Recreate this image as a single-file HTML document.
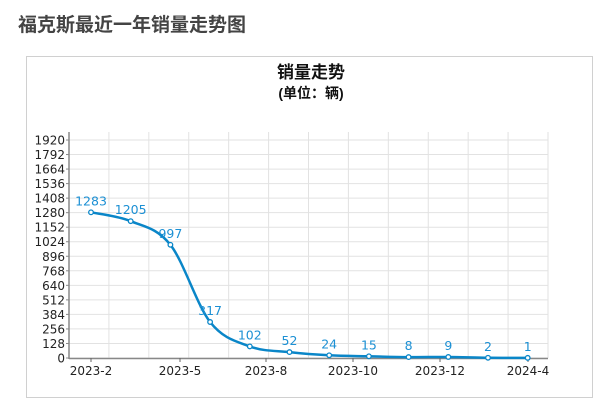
<!DOCTYPE html>
<html><head><meta charset="utf-8"><style>
body{margin:0;background:#fff;width:600px;height:406px;overflow:hidden;font-family:"Liberation Sans","Noto Sans CJK SC",sans-serif}
</style></head><body>
<svg id="s" width="600" height="406" xmlns="http://www.w3.org/2000/svg" style="position:absolute;left:0;top:0">
<text x="18" y="31" font-size="19" font-weight="bold" fill="#444" font-family="Liberation Sans,Noto Sans CJK SC,sans-serif">福克斯最近一年销量走势图</text>
<rect x="26.5" y="56.5" width="566" height="341" fill="#fff" stroke="#d0d0d0"/>
<text x="311" y="78" text-anchor="middle" font-size="17" font-weight="bold" fill="#111" font-family="Liberation Sans,Noto Sans CJK SC,sans-serif">销量走势</text>
<text x="311" y="98" text-anchor="middle" font-size="14" font-weight="bold" fill="#111" font-family="Liberation Sans,Noto Sans CJK SC,sans-serif">(单位：辆)</text>
<g id="g"></g>
</svg>
<script>
var g=document.getElementById('g'),h='';
var L=69,R=548,T=132,B=358;
function Y(v){return B-v*218/1920;}
for(var i=0;i<=12;i++){var x=L+i*(R-L)/12;h+='<line x1="'+x+'" y1="'+T+'" x2="'+x+'" y2="'+B+'" stroke="#e2e2e2"/>';}
for(var k=0;k<=15;k++){var y=Y(k*128);h+='<line x1="'+L+'" y1="'+y+'" x2="'+R+'" y2="'+y+'" stroke="#e2e2e2"/>';
h+='<line x1="'+(L-3)+'" y1="'+y+'" x2="'+L+'" y2="'+y+'" stroke="#888"/>';
h+='<text x="'+(L-4)+'" y="'+(y+4.5)+'" text-anchor="end" font-size="12" fill="#222" font-family="DejaVu Sans,sans-serif">'+(k*128)+'</text>';}
h+='<line x1="'+L+'" y1="'+T+'" x2="'+L+'" y2="'+(B+1)+'" stroke="#888" stroke-width="1.5"/>';
h+='<line x1="'+L+'" y1="'+(B+0.5)+'" x2="'+R+'" y2="'+(B+0.5)+'" stroke="#888" stroke-width="1.5"/>';
var xl=[[91,'2023-2'],[180,'2023-5'],[266,'2023-8'],[353,'2023-10'],[440,'2023-12'],[528,'2024-4']];
xl.forEach(function(a){h+='<line x1="'+a[0]+'" y1="'+B+'" x2="'+a[0]+'" y2="'+(B+4)+'" stroke="#666"/>';
h+='<text x="'+a[0]+'" y="375" text-anchor="middle" font-size="12" fill="#222" font-family="DejaVu Sans,sans-serif">'+a[1]+'</text>';});
var v=[1283,1205,997,317,102,52,24,15,8,9,2,1];
var p=v.map(function(d,i){return [91+i*39.7,Y(d)];});
var d='M'+p[0][0]+','+p[0][1];
for(var i=0;i<p.length-1;i++){var p0=p[i-1]||p[i],p1=p[i],p2=p[i+1],p3=p[i+2]||p2;
var c1x=p1[0]+(p2[0]-p0[0])/6,c1y=p1[1]+(p2[1]-p0[1])/6,c2x=p2[0]-(p3[0]-p1[0])/6,c2y=p2[1]-(p3[1]-p1[1])/6;
d+=' C'+c1x+','+c1y+' '+c2x+','+c2y+' '+p2[0]+','+p2[1];}
h+='<path d="'+d+'" fill="none" stroke="#0a86c8" stroke-width="2.5"/>';
p.forEach(function(q,i){h+='<circle cx="'+q[0]+'" cy="'+q[1]+'" r="2.3" fill="#fff" stroke="#0a86c8" stroke-width="1.3"/>';
h+='<text x="'+q[0]+'" y="'+(q[1]-7)+'" text-anchor="middle" font-size="12.5" fill="#1c90d4" font-family="DejaVu Sans,sans-serif">'+v[i]+'</text>';});
g.innerHTML=h;
</script>
</body></html>
